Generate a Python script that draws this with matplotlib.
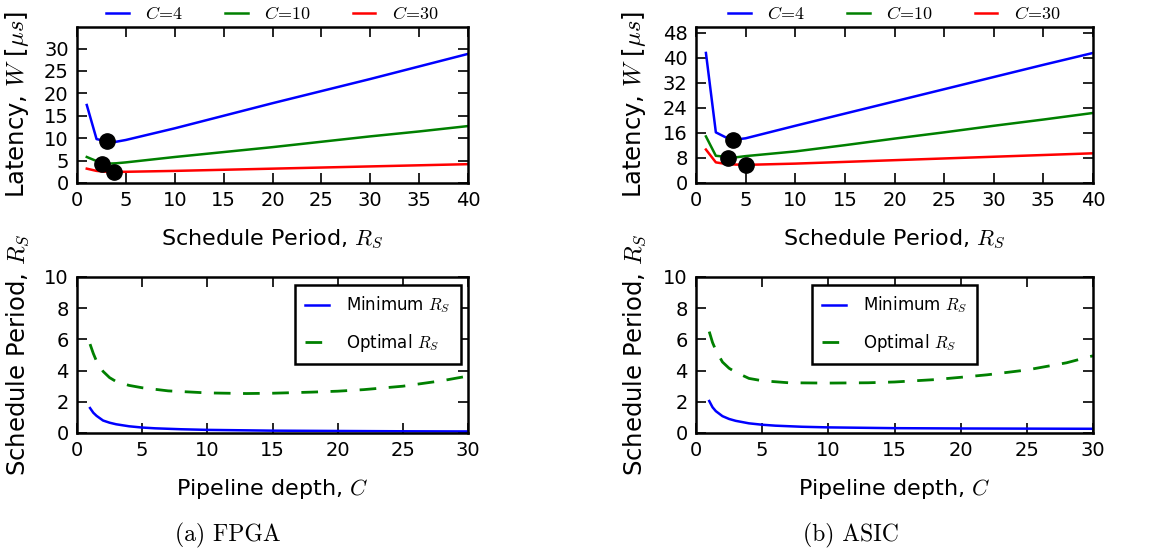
import matplotlib
matplotlib.use("Agg")
import matplotlib.pyplot as plt
import matplotlib.transforms as mtransforms

plt.rcParams['font.family'] = ['DejaVu Sans']
plt.rcParams['mathtext.fontset'] = 'cm'
plt.rcParams['xtick.direction'] = 'in'
plt.rcParams['ytick.direction'] = 'in'
plt.rcParams['xtick.top'] = True
plt.rcParams['ytick.right'] = True
plt.rcParams['xtick.major.size'] = 7
plt.rcParams['ytick.major.size'] = 7
plt.rcParams['xtick.major.width'] = 1.2
plt.rcParams['ytick.major.width'] = 1.2
plt.rcParams['axes.linewidth'] = 1.8

# --- top panels: latency vs schedule period ---
rs = [1, 2, 3, 4, 5, 10, 15, 20, 25, 30, 35, 40]

fpga_c4 = [17.4, 9.8, 9.3, 9.2, 9.6, 12.2, 15.0, 17.8, 20.5, 23.2, 26.0, 28.8]
fpga_c10 = [5.8, 4.9, 4.3, 4.4, 4.6, 5.8, 6.9, 8.0, 9.2, 10.4, 11.5, 12.7]
fpga_c30 = [3.2, 2.7, 2.5, 2.5, 2.5, 2.7, 2.95, 3.2, 3.45, 3.7, 3.95, 4.2]
fpga_opt_x = [3.07, 2.55, 3.8]
fpga_opt_y = [9.3, 4.3, 2.4]

asic_c4 = [41.6, 16.2, 14.6, 13.9, 14.3, 18.3, 22.2, 26.1, 30.0, 33.9, 37.8, 41.6]
asic_c10 = [14.9, 8.7, 8.4, 8.2, 8.6, 10.1, 12.1, 14.2, 16.2, 18.3, 20.3, 22.4]
asic_c30 = [10.7, 6.6, 6.1, 5.9, 5.8, 6.2, 6.75, 7.3, 7.85, 8.4, 8.95, 9.5]
asic_opt_x = [3.7, 3.26, 5.04]
asic_opt_y = [13.9, 8.0, 5.7]

# --- bottom panels: schedule period vs pipeline depth ---
c_min = [1, 1.25, 1.5, 2, 2.5, 3, 4, 5, 6, 8, 10, 15, 20, 25, 30]
fpga_min = [1.6, 1.3, 1.1, 0.8, 0.66, 0.56, 0.43, 0.35, 0.3, 0.24, 0.2, 0.15, 0.13, 0.11, 0.1]
asic_min = [2.05, 1.65, 1.4, 1.08, 0.9, 0.78, 0.62, 0.53, 0.47, 0.4, 0.36, 0.31, 0.29, 0.28, 0.27]

c_opt = [1, 1.25, 1.5, 2, 2.5, 3, 4, 5, 7, 10, 13, 15, 18, 20, 22, 25, 28, 30]
fpga_opt = [5.7, 5.1, 4.6, 3.95, 3.55, 3.3, 3.05, 2.9, 2.7, 2.57, 2.53, 2.55, 2.62, 2.68, 2.78, 3.0, 3.35, 3.65]
asic_opt = [6.5, 5.8, 5.3, 4.55, 4.15, 3.9, 3.5, 3.35, 3.22, 3.2, 3.22, 3.27, 3.42, 3.57, 3.73, 4.04, 4.5, 4.95]

W, H = 1171, 553
fig = plt.figure(figsize=(W / 100, H / 100), dpi=100)


def box(x0, x1, ytop, ybot):
    return [x0 / W, 1 - ybot / H, (x1 - x0) / W, (ybot - ytop) / H]


panels = [
    dict(x0=77, x1=468, c4=fpga_c4, c10=fpga_c10, c30=fpga_c30, ox=fpga_opt_x, oy=fpga_opt_y,
         ymax=34.8, yticks=range(0, 31, 5), mn=fpga_min, op=fpga_opt, loc='upper right',
         caption='(a) FPGA', cap_x=228, ylab_x=31),
    dict(x0=696, x1=1093, c4=asic_c4, c10=asic_c10, c30=asic_c30, ox=asic_opt_x, oy=asic_opt_y,
         ymax=49.9, yticks=range(0, 49, 8), mn=asic_min, op=asic_opt, loc='upper center',
         caption='(b) ASIC', cap_x=851, ylab_x=648),
]

for p in panels:
    # latency plot
    ax = fig.add_axes(box(p['x0'], p['x1'], 27, 183))
    ax.plot(rs, p['c4'], color='blue', lw=1.8, label=r'$C\!=\!4$')
    ax.plot(rs, p['c10'], color='green', lw=1.8, label=r'$C\!=\!10$')
    ax.plot(rs, p['c30'], color='red', lw=1.8, label=r'$C\!=\!30$')
    ax.plot(p['ox'], p['oy'], 'o', color='black', ms=11, zorder=5)
    ax.set_xlim(0, 40)
    ax.set_ylim(0, p['ymax'])
    ax.set_xticks(range(0, 41, 5))
    ax.set_yticks(list(p['yticks']))
    ax.tick_params(labelsize=14, pad=6)
    ax.set_xlabel(r'Schedule Period, $R_S$', fontsize=16, labelpad=13)
    ax.set_ylabel(r'Latency, $W$ [$\mu s$]', fontsize=17.5)
    ax.legend(loc='lower center', bbox_to_anchor=(0.5, 0.98), ncol=3, frameon=False,
              fontsize=13, handlelength=1.25, handletextpad=0.9, columnspacing=2.3,
              borderaxespad=0.0)

    # schedule period plot
    ax2 = fig.add_axes(box(p['x0'], p['x1'], 277, 433))
    ax2.plot(c_min, p['mn'], color='blue', lw=1.8, label=r'Minimum $R_S$')
    ax2.plot(c_opt, p['op'], color='green', lw=2, ls=(0, (6, 4.5)), label=r'Optimal $R_S$')
    ax2.set_xlim(0, 30)
    ax2.set_ylim(0, 10)
    ax2.set_xticks(range(0, 31, 5))
    ax2.set_yticks(range(0, 11, 2))
    ax2.tick_params(labelsize=14, pad=6)
    ax2.set_xlabel(r'Pipeline depth, $C$', fontsize=16, labelpad=12)
    ax2.set_ylabel(r'Schedule Period, $R_S$', fontsize=17.5)
    leg = ax2.legend(loc=p['loc'], fontsize=12, fancybox=False, framealpha=1,
                     labelspacing=1.0, handlelength=1.45, handletextpad=1.0,
                     borderpad=0.6, borderaxespad=0.45)
    leg.get_frame().set_edgecolor('black')
    leg.get_frame().set_linewidth(1.8)

    # y labels sit at a fixed horizontal spot in the figure
    for a in (ax, ax2):
        a.yaxis.set_label_coords(p['ylab_x'] / W, 0.5,
                                 transform=mtransforms.blended_transform_factory(
                                     fig.transFigure, a.transAxes))

    fig.text(p['cap_x'] / W, 1 - 535 / H, p['caption'], family='cmr10', fontsize=17,
             ha='center', va='center')

fig.savefig('out.png', dpi=100)
